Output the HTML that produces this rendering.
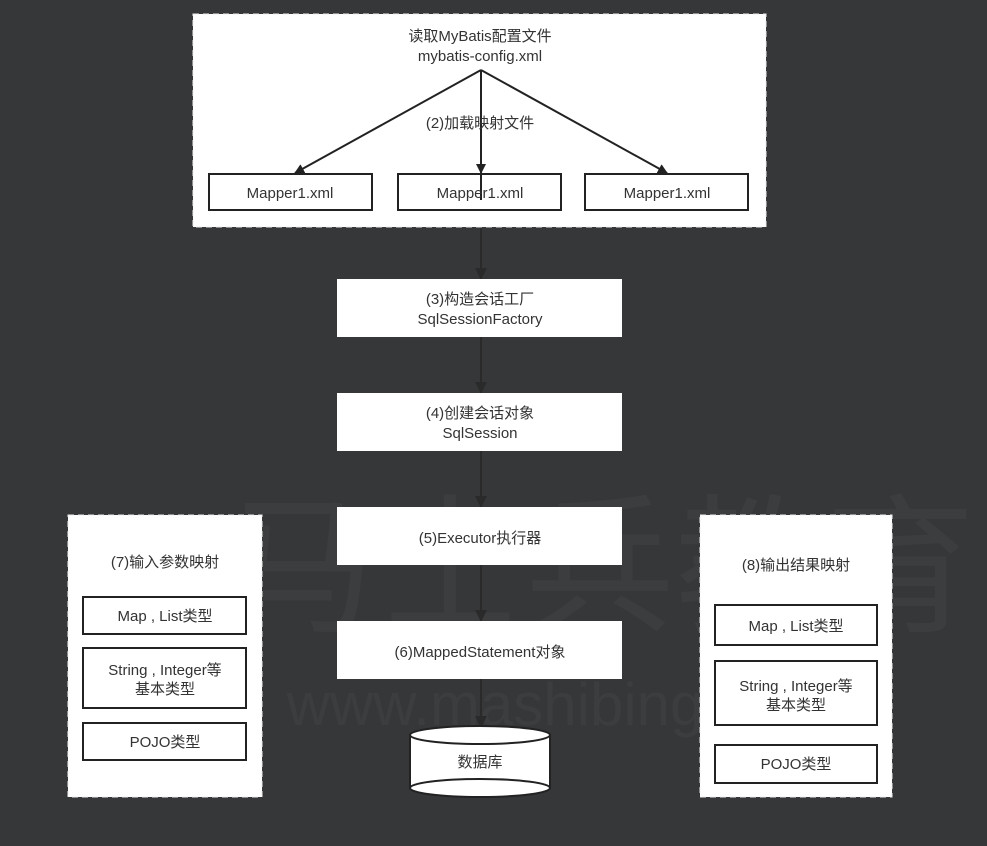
<!DOCTYPE html>
<html><head><meta charset="utf-8"><style>
html,body{margin:0;padding:0;background:#353739;}
body{width:987px;height:846px;overflow:hidden;position:relative;font-family:"Liberation Sans","Noto Sans CJK SC",sans-serif;}
svg{position:absolute;left:0;top:0}
text{font-family:"Liberation Sans","Noto Sans CJK SC",sans-serif;font-size:15px;fill:#333;text-anchor:middle}
</style></head><body>
<svg width="987" height="846" viewBox="0 0 987 846">
<defs>
<marker id="a" markerWidth="10" markerHeight="10" refX="9" refY="5" orient="auto" markerUnits="userSpaceOnUse"><path d="M0,0 L10,5 L0,10 z" fill="#222"/></marker>
<marker id="b" markerWidth="12" markerHeight="12" refX="11" refY="6" orient="auto" markerUnits="userSpaceOnUse"><path d="M0,0 L12,6 L0,12 z" fill="#2a2a2a"/></marker>
</defs>
<text x="600" y="620" style="font-size:150px;fill:#3b3d3f">马士兵教育</text>
<text x="560" y="725" style="font-size:60px;fill:#3b3d3f">www.mashibing.com</text>
<line x1="481" y1="227" x2="481" y2="279" stroke="#2a2a2a" stroke-width="2" marker-end="url(#b)"/>
<line x1="481" y1="337" x2="481" y2="393" stroke="#2a2a2a" stroke-width="2" marker-end="url(#b)"/>
<line x1="481" y1="451" x2="481" y2="507" stroke="#2a2a2a" stroke-width="2" marker-end="url(#b)"/>
<line x1="481" y1="565" x2="481" y2="621" stroke="#2a2a2a" stroke-width="2" marker-end="url(#b)"/>
<line x1="481" y1="679" x2="481" y2="727" stroke="#2a2a2a" stroke-width="2" marker-end="url(#b)"/>
<rect x="193" y="14" width="573" height="213" fill="#fff" stroke="#eee" stroke-dasharray="6,4"/>
<text x="480" y="41">读取MyBatis配置文件</text>
<text x="480" y="61">mybatis-config.xml</text>
<line x1="481" y1="70" x2="295" y2="173" stroke="#222" stroke-width="2" marker-end="url(#a)"/>
<line x1="481" y1="70" x2="481" y2="173" stroke="#222" stroke-width="2" marker-end="url(#a)"/>
<line x1="481" y1="70" x2="667" y2="173" stroke="#222" stroke-width="2" marker-end="url(#a)"/>
<text x="480" y="128">(2)加载映射文件</text>
<g fill="#fff" stroke="#222" stroke-width="2">
<rect x="209" y="174" width="163" height="36"/><rect x="398" y="174" width="163" height="36"/><rect x="585" y="174" width="163" height="36"/>
</g>
<line x1="481" y1="174" x2="481" y2="200" stroke="#222" stroke-width="2"/>
<text x="290" y="198">Mapper1.xml</text><text x="480" y="198">Mapper1.xml</text><text x="667" y="198">Mapper1.xml</text>
<g fill="#fff">
<rect x="337" y="279" width="285" height="58"/><rect x="337" y="393" width="285" height="58"/>
<rect x="337" y="507" width="285" height="58"/><rect x="337" y="621" width="285" height="58"/>
</g>
<text x="480" y="304">(3)构造会话工厂</text><text x="480" y="324">SqlSessionFactory</text>
<text x="480" y="418">(4)创建会话对象</text><text x="480" y="438">SqlSession</text>
<text x="480" y="543">(5)Executor执行器</text>
<text x="480" y="657">(6)MappedStatement对象</text>
<path d="M410,735 L410,788 A70,9 0 0 0 550,788 L550,735" fill="#fff" stroke="#222" stroke-width="2"/>
<ellipse cx="480" cy="735" rx="70" ry="9" fill="#fff" stroke="#222" stroke-width="2"/>
<path d="M410,788 A70,9 0 0 1 550,788" fill="none" stroke="#222" stroke-width="2"/>
<text x="480" y="767">数据库</text>
<rect x="68" y="515" width="194" height="282" fill="#fff" stroke="#eee" stroke-dasharray="6,4"/>
<text x="165" y="567">(7)输入参数映射</text>
<g fill="#fff" stroke="#222" stroke-width="2">
<rect x="83" y="597" width="163" height="37"/><rect x="83" y="648" width="163" height="60"/><rect x="83" y="723" width="163" height="37"/>
</g>
<text x="165" y="621">Map , List类型</text>
<text x="165" y="675">String , Integer等</text><text x="165" y="694">基本类型</text>
<text x="165" y="747">POJO类型</text>
<rect x="700" y="515" width="192" height="282" fill="#fff" stroke="#eee" stroke-dasharray="6,4"/>
<text x="796" y="570">(8)输出结果映射</text>
<g fill="#fff" stroke="#222" stroke-width="2">
<rect x="715" y="605" width="162" height="40"/><rect x="715" y="661" width="162" height="64"/><rect x="715" y="745" width="162" height="38"/>
</g>
<text x="796" y="631">Map , List类型</text>
<text x="796" y="691">String , Integer等</text><text x="796" y="710">基本类型</text>
<text x="796" y="769">POJO类型</text>
</svg>
</body></html>
